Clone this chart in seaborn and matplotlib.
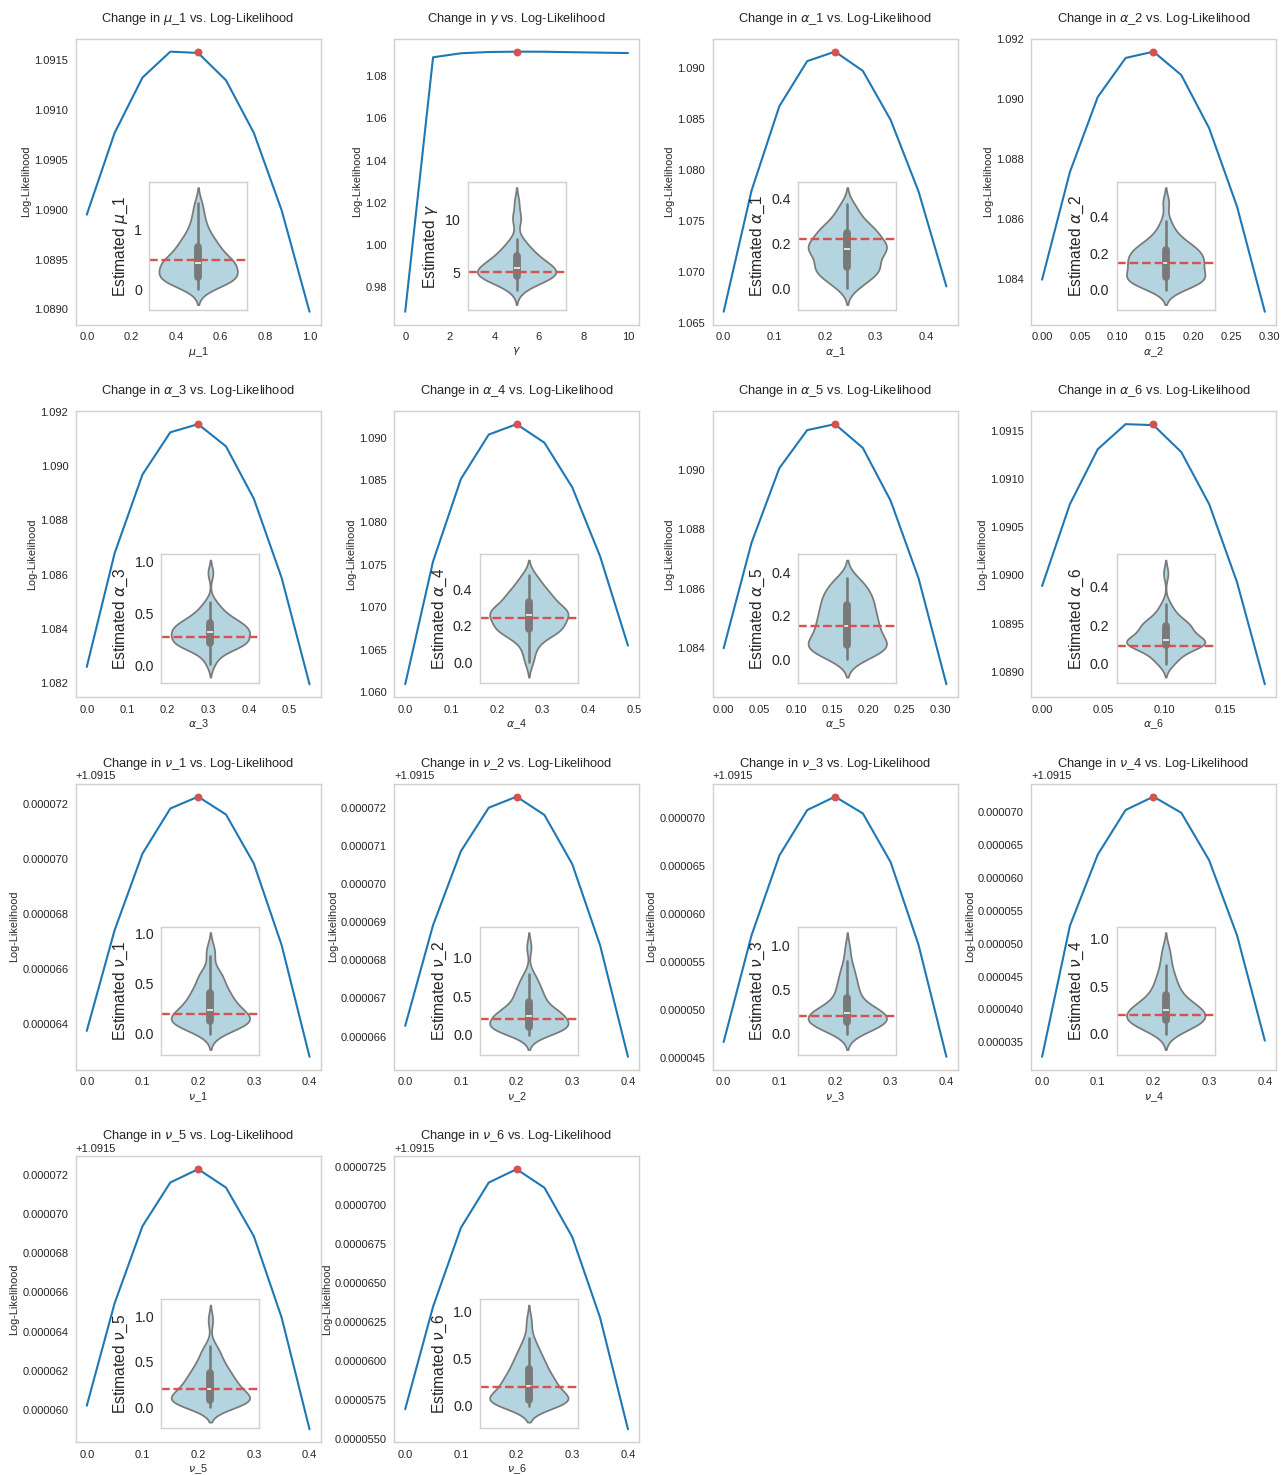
import matplotlib
matplotlib.use("Agg")
import matplotlib.pyplot as plt
import numpy as np
import seaborn as sns

# Parameter labels (mathtext) and the values used to simulate the data
labels = [r"$\mu$_1", r"$\gamma$", r"$\alpha$_1", r"$\alpha$_2", r"$\alpha$_3",
          r"$\alpha$_4", r"$\alpha$_5", r"$\alpha$_6", r"$\nu$_1", r"$\nu$_2",
          r"$\nu$_3", r"$\nu$_4", r"$\nu$_5", r"$\nu$_6"]
true_values = [0.5, 5.0, 0.22, 0.147, 0.275, 0.243, 0.154, 0.091,
               0.2, 0.2, 0.2, 0.2, 0.2, 0.2]

# Parameter grids used for the profile log-likelihood
grid_mu_1 = [0.0, 0.125, 0.25, 0.375, 0.5, 0.625, 0.75, 0.875, 1.0]
grid_gamma = [0.0, 1.25, 2.5, 3.75, 5.0, 6.25, 7.5, 8.75, 10.0]
grid_alpha_1 = [0.0, 0.055, 0.11, 0.165, 0.22, 0.275, 0.33, 0.385, 0.44]
grid_alpha_2 = [0.0, 0.03675, 0.0735, 0.11025, 0.147, 0.18375, 0.2205, 0.25725, 0.294]
grid_alpha_3 = [0.0, 0.06875, 0.1375, 0.20625, 0.275, 0.34375, 0.4125, 0.48125, 0.55]
grid_alpha_4 = [0.0, 0.06075, 0.1215, 0.18225, 0.243, 0.30375, 0.3645, 0.42525, 0.486]
grid_alpha_5 = [0.0, 0.0385, 0.077, 0.1155, 0.154, 0.1925, 0.231, 0.2695, 0.308]
grid_alpha_6 = [0.0, 0.02275, 0.0455, 0.06825, 0.091, 0.11375, 0.1365, 0.15925, 0.182]
grid_nu = [0.0, 0.05, 0.1, 0.15, 0.2, 0.25, 0.3, 0.35, 0.4]

# Log-likelihood along each grid (other parameters fixed)
ll_mu_1 = [1.08995, 1.09077, 1.091325, 1.091585, 1.091572, 1.091298, 1.09077, 1.089993, 1.088976]
ll_gamma = [0.9685, 1.0889, 1.0908, 1.0914, 1.09157, 1.09153, 1.0913, 1.0911, 1.0909]
ll_alpha_1 = [1.06609, 1.07795, 1.08624, 1.09066, 1.09159, 1.08970, 1.08488, 1.07788, 1.06857]
ll_alpha_2 = [1.08397, 1.08756, 1.09006, 1.09136, 1.09157, 1.09079, 1.08902, 1.08641, 1.08290]
ll_alpha_3 = [1.0826, 1.08679, 1.08969, 1.09125, 1.09155, 1.09073, 1.08880, 1.08588, 1.08196]
ll_alpha_4 = [1.06091, 1.07540, 1.08512, 1.09036, 1.09159, 1.08940, 1.08413, 1.07599, 1.06548]
ll_alpha_5 = [1.08400, 1.08754, 1.09005, 1.09133, 1.09153, 1.09073, 1.08895, 1.08635, 1.08279]
ll_alpha_6 = [1.08989, 1.09074, 1.09131, 1.09157, 1.09156, 1.09128, 1.09074, 1.08993, 1.08887]
ll_nu_1 = [1.09156374, 1.09156740, 1.09157018, 1.09157182, 1.09157225,
           1.09157160, 1.09156982, 1.09156685, 1.09156280]
ll_nu_2 = [1.09156628, 1.09156892, 1.09157086, 1.09157200, 1.09157229,
           1.09157181, 1.09157052, 1.09156839, 1.09156547]
ll_nu_3 = [1.09154665, 1.09155775, 1.09156607, 1.09157081, 1.09157221,
           1.09157046, 1.09156537, 1.09155676, 1.09154511]
ll_nu_4 = [1.09153282, 1.09155271, 1.09156352, 1.09157029, 1.09157231,
           1.09156986, 1.09156265, 1.09155127, 1.09153527]
ll_nu_5 = [1.09156022, 1.09156545, 1.09156938, 1.09157161, 1.09157229,
           1.09157135, 1.09156887, 1.09156471, 1.09155902]
ll_nu_6 = [1.09155694, 1.09156351, 1.09156857, 1.09157147, 1.09157233,
           1.09157114, 1.09156798, 1.09156280, 1.09155565]

# Estimates from repeated fits
est_mu_1 = [0.02, 0.07, 0.10, 0.13, 0.15, 0.17, 0.18, 0.19, 0.20, 0.21,
            0.22, 0.24, 0.27, 0.30, 0.33, 0.36, 0.38, 0.40, 0.42, 0.43,
            0.45, 0.46, 0.48, 0.50, 0.52, 0.55, 0.58, 0.62, 0.66, 0.70,
            0.73, 0.76, 0.80, 0.85, 0.90, 0.97, 1.05, 1.15, 1.28, 1.44]
est_gamma = [3.27, 3.6, 3.9, 4.1, 4.2, 4.3, 4.4, 4.45, 4.5, 4.55,
             4.6, 4.7, 4.8, 4.9, 5.0, 5.05, 5.1, 5.2, 5.3, 5.35,
             5.4, 5.5, 5.6, 5.7, 5.8, 5.9, 6.0, 6.2, 6.35, 6.5,
             6.6, 6.8, 7.0, 7.2, 7.5, 7.8, 8.18, 9.9, 10.3, 11.7]
est_alpha_1 = [0.0, 0.02, 0.03, 0.045, 0.055, 0.065, 0.075, 0.08, 0.085, 0.09,
               0.095, 0.105, 0.115, 0.125, 0.135, 0.145, 0.155, 0.16, 0.168, 0.173,
               0.178, 0.183, 0.188, 0.193, 0.198, 0.203, 0.21, 0.22, 0.23, 0.245,
               0.25, 0.255, 0.26, 0.27, 0.28, 0.29, 0.31, 0.33, 0.35, 0.378]
est_alpha_2 = [0.0, 0.01, 0.02, 0.03, 0.04, 0.045, 0.05, 0.055, 0.06, 0.063,
               0.068, 0.075, 0.085, 0.095, 0.105, 0.11, 0.12, 0.128, 0.135, 0.142,
               0.148, 0.155, 0.162, 0.17, 0.178, 0.185, 0.193, 0.2, 0.208, 0.216,
               0.222, 0.23, 0.24, 0.25, 0.265, 0.28, 0.3, 0.33, 0.373, 0.476]
est_alpha_3 = [0.01, 0.08, 0.12, 0.15, 0.17, 0.18, 0.19, 0.2, 0.205, 0.21,
               0.215, 0.225, 0.24, 0.25, 0.26, 0.27, 0.28, 0.29, 0.3, 0.31,
               0.325, 0.33, 0.34, 0.35, 0.355, 0.36, 0.37, 0.38, 0.395, 0.405,
               0.42, 0.43, 0.44, 0.46, 0.48, 0.5, 0.53, 0.57, 0.61, 0.89]
est_alpha_4 = [0.0, 0.05, 0.09, 0.12, 0.14, 0.155, 0.165, 0.17, 0.175, 0.178,
               0.185, 0.19, 0.2, 0.21, 0.22, 0.23, 0.24, 0.245, 0.25, 0.255,
               0.265, 0.27, 0.275, 0.28, 0.285, 0.29, 0.295, 0.3, 0.31, 0.33,
               0.34, 0.35, 0.36, 0.37, 0.38, 0.39, 0.41, 0.43, 0.455, 0.478]
est_alpha_5 = [0.0, 0.01, 0.02, 0.03, 0.04, 0.045, 0.05, 0.055, 0.06, 0.063,
               0.068, 0.075, 0.085, 0.095, 0.1, 0.11, 0.12, 0.13, 0.14, 0.15,
               0.157, 0.165, 0.175, 0.185, 0.195, 0.205, 0.215, 0.225, 0.235, 0.248,
               0.26, 0.27, 0.28, 0.29, 0.3, 0.315, 0.33, 0.345, 0.36, 0.375]
est_alpha_6 = [0.0, 0.01, 0.025, 0.04, 0.055, 0.065, 0.075, 0.085, 0.09, 0.097,
               0.1, 0.103, 0.106, 0.109, 0.112, 0.114, 0.116, 0.118, 0.12, 0.121,
               0.122, 0.13, 0.14, 0.15, 0.16, 0.17, 0.178, 0.185, 0.19, 0.195,
               0.2, 0.205, 0.21, 0.22, 0.23, 0.245, 0.26, 0.285, 0.311, 0.47]
est_nu_1 = [0.0, 0.03, 0.05, 0.07, 0.085, 0.095, 0.1, 0.105, 0.11, 0.118,
            0.125, 0.135, 0.145, 0.155, 0.165, 0.175, 0.19, 0.2, 0.215, 0.228,
            0.238, 0.25, 0.265, 0.28, 0.3, 0.32, 0.34, 0.36, 0.38, 0.4,
            0.42, 0.44, 0.47, 0.5, 0.54, 0.58, 0.6, 0.62, 0.777, 0.85]
est_nu_2 = [0.0, 0.02, 0.04, 0.06, 0.075, 0.085, 0.09, 0.095, 0.1, 0.104,
            0.108, 0.115, 0.125, 0.14, 0.16, 0.18, 0.2, 0.22, 0.235, 0.245,
            0.255, 0.265, 0.275, 0.285, 0.295, 0.305, 0.32, 0.35, 0.39, 0.42,
            0.45, 0.48, 0.51, 0.54, 0.58, 0.62, 0.67, 0.72, 0.79, 1.13]
est_nu_3 = [0.0, 0.02, 0.04, 0.06, 0.08, 0.095, 0.105, 0.115, 0.122, 0.128,
            0.133, 0.14, 0.15, 0.16, 0.17, 0.18, 0.195, 0.21, 0.22, 0.23,
            0.238, 0.248, 0.258, 0.268, 0.278, 0.288, 0.3, 0.32, 0.36, 0.4,
            0.43, 0.46, 0.5, 0.54, 0.58, 0.63, 0.68, 0.74, 0.82, 0.97]
est_nu_4 = [0.0, 0.025, 0.05, 0.07, 0.09, 0.1, 0.11, 0.12, 0.13, 0.138,
            0.145, 0.155, 0.165, 0.175, 0.185, 0.195, 0.21, 0.22, 0.235, 0.245,
            0.255, 0.265, 0.275, 0.285, 0.295, 0.31, 0.325, 0.345, 0.37, 0.4,
            0.42, 0.45, 0.48, 0.52, 0.56, 0.6, 0.65, 0.72, 0.8, 0.9]
est_nu_5 = [0.0, 0.01, 0.02, 0.03, 0.04, 0.05, 0.058, 0.065, 0.07, 0.075,
            0.08, 0.09, 0.1, 0.11, 0.12, 0.135, 0.15, 0.165, 0.18, 0.195,
            0.21, 0.225, 0.24, 0.255, 0.27, 0.29, 0.31, 0.33, 0.35, 0.37,
            0.39, 0.41, 0.44, 0.47, 0.5, 0.54, 0.58, 0.63, 0.674, 0.96]
est_nu_6 = [0.0, 0.01, 0.02, 0.03, 0.035, 0.04, 0.045, 0.05, 0.053, 0.056,
            0.06, 0.07, 0.08, 0.095, 0.11, 0.125, 0.14, 0.16, 0.18, 0.2,
            0.215, 0.23, 0.245, 0.26, 0.275, 0.29, 0.31, 0.33, 0.36, 0.385,
            0.41, 0.43, 0.46, 0.49, 0.52, 0.56, 0.6, 0.65, 0.726, 0.9]

grids = [grid_mu_1, grid_gamma, grid_alpha_1, grid_alpha_2, grid_alpha_3,
         grid_alpha_4, grid_alpha_5, grid_alpha_6] + [grid_nu] * 6
lls = [ll_mu_1, ll_gamma, ll_alpha_1, ll_alpha_2, ll_alpha_3, ll_alpha_4,
       ll_alpha_5, ll_alpha_6, ll_nu_1, ll_nu_2, ll_nu_3, ll_nu_4, ll_nu_5, ll_nu_6]
estimates = [est_mu_1, est_gamma, est_alpha_1, est_alpha_2, est_alpha_3,
             est_alpha_4, est_alpha_5, est_alpha_6, est_nu_1, est_nu_2,
             est_nu_3, est_nu_4, est_nu_5, est_nu_6]

# Styling
LINE_COLOR = "#1f77b4"
RED = "#d4534f"
inset_left = [0.30, 0.30] + [0.35] * 12

sns.set_theme(style="whitegrid")
plt.rcParams["font.family"] = ["Liberation Sans", "DejaVu Sans"]
plt.rcParams["xtick.labelsize"] = 8
plt.rcParams["ytick.labelsize"] = 8
plt.rcParams["xtick.major.size"] = 0
plt.rcParams["ytick.major.size"] = 0
plt.rcParams["xtick.major.pad"] = 5.5
plt.rcParams["ytick.major.pad"] = 5.3
plt.rcParams["axes.linewidth"] = 1.0
plt.rcParams["axes.edgecolor"] = "#d0d0d0"

fig, axes = plt.subplots(4, 4, figsize=(12.82, 14.75), dpi=100)
fig.subplots_adjust(left=0.059, right=0.9953, top=0.9738, bottom=0.0222,
                    wspace=0.2996, hspace=0.302)
flat = axes.ravel()

for i, (label, grid, ll, est, true) in enumerate(zip(labels, grids, lls, estimates, true_values)):
    ax = flat[i]
    sns.lineplot(x=grid, y=ll, ax=ax, color=LINE_COLOR, linewidth=1.5)
    ax.scatter([true], [max(ll)], color=RED, s=22, zorder=3)
    ax.ticklabel_format(axis="y", style="plain", useOffset=True)
    # fixed title height, so it stays put above the offset text
    ax.set_title(f"Change in {label} vs. Log-Likelihood", fontsize=9.3, pad=12, y=1.0)
    ax.set_xlabel(label, fontsize=7.8, labelpad=2)
    ax.set_ylabel("Log-Likelihood", fontsize=7.8, labelpad=2)
    ax.grid(False)

    ins = ax.inset_axes([inset_left[i], 0.05, 0.40, 0.45])
    sns.violinplot(y=est, ax=ins, color="lightblue", inner="box", bw_adjust=0.8)
    ins.axhline(true, color=RED, linestyle="--", linewidth=1.7)
    ins.set_ylabel(f"Estimated {label}", fontsize=11.2, labelpad=3)
    ins.tick_params(axis="y", labelsize=10.2)
    ins.set_xticks([])
    ins.set_xlabel("")
    ins.grid(False)

for ax in flat[len(labels):]:
    ax.axis("off")

fig.savefig("out.png", dpi=100)
